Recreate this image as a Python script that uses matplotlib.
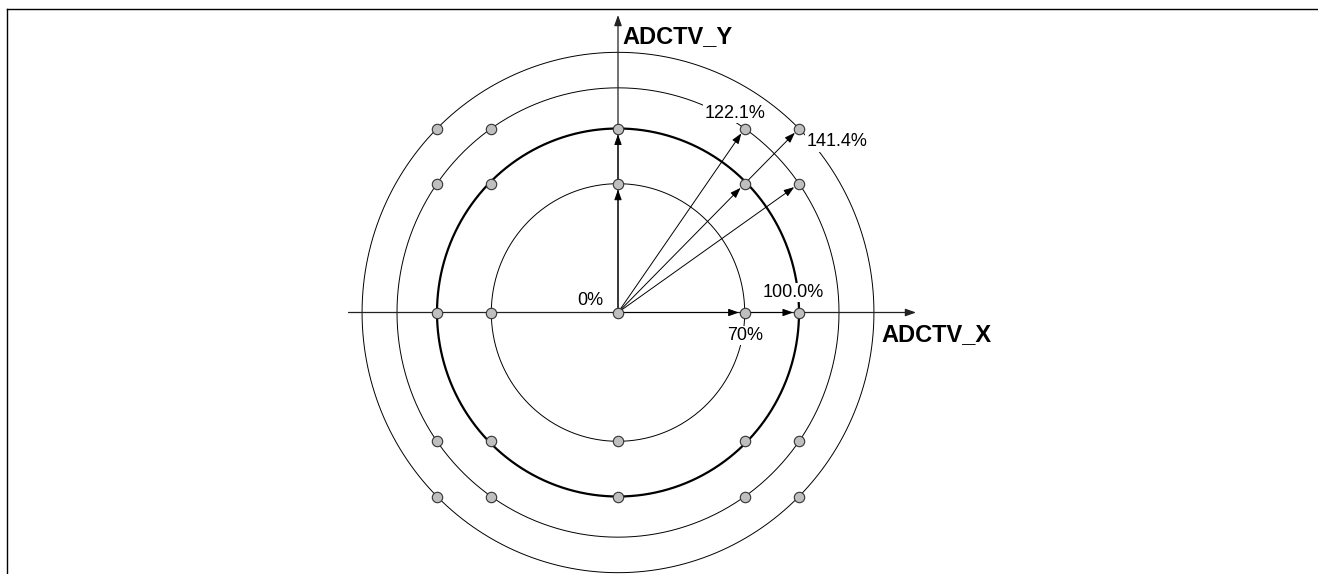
import matplotlib.pyplot as plt
import numpy as np

plt.rcParams['font.family'] = ['Liberation Sans', 'DejaVu Sans']

# circle radii (fraction of full scale) and their labels
radii = [0.7, 1.0, 1.221, 1.414]
radius_labels = ["70%", "100.0%", "122.1%", "141.4%"]
bold_radius = 1.0

# grid of operating points on both axes
grid_values = [-1.0, -0.7, 0.0, 0.7, 1.0]

# vector arrows drawn between points (start, end)
arrow_starts = [(0, 0), (0.7, 0), (0, 0), (0, 0.7), (0, 0), (0, 0), (0.7, 0.7), (0, 0)]
arrow_ends = [(0.7, 0), (1, 0), (0, 0.7), (0, 1), (0.7, 1), (0.7, 0.7), (1, 1), (1, 0.7)]

axis_names = ["ADCTV_X", "ADCTV_Y"]
origin_label = "0%"

# layout, in pixels of the 1318x574 canvas
W, H = 1318, 574
CX, CY = 618, 312.5       # origin
SX, SY = 181.0, 184.0     # pixels per unit
FRAME_L, FRAME_T = 7, 9


def px(x, y):
    return (x - CX) / SX, (CY - y) / SY


fig = plt.figure(figsize=(W / 100, H / 100), dpi=100)
ax = fig.add_axes([FRAME_L / W, 0, 1 - FRAME_L / W, (H - FRAME_T) / H])
ax.set_xlim(px(FRAME_L, 0)[0], px(W, 0)[0])
ax.set_ylim(px(0, H)[1], px(0, FRAME_T)[1])
ax.set_xticks([])
ax.set_yticks([])
for side in ["bottom", "right"]:
    ax.spines[side].set_visible(False)
for side in ["top", "left"]:
    ax.spines[side].set_linewidth(1.0)
    ax.spines[side].set_color("black")

# circles
theta = np.linspace(0, 2 * np.pi, 721)
for r in radii:
    lw = 1.6 if r == bold_radius else 0.7
    ax.plot(r * np.cos(theta), r * np.sin(theta), color="black", lw=lw, zorder=1)

# main axes with arrow heads
x_left, _ = px(348.5, 0)
x_right, _ = px(916, 0)
_, y_top = px(0, 15)
head = dict(arrowstyle="-|>,head_length=0.7,head_width=0.25", color="#222222",
            lw=0.9, mutation_scale=9, shrinkA=0, shrinkB=0)
ax.annotate("", xy=(x_right, 0), xytext=(x_left, 0), arrowprops=head, zorder=3)
ax.annotate("", xy=(0, y_top), xytext=(0, 0), arrowprops=head, zorder=3)

# vector arrows
vec = dict(arrowstyle="-|>,head_length=0.7,head_width=0.25", color="black",
           lw=0.7, mutation_scale=9, shrinkA=0, shrinkB=4.2)
for s, e in zip(arrow_starts, arrow_ends):
    ax.annotate("", xy=e, xytext=s, arrowprops=vec, zorder=4)

# radius labels, white box breaks the circle
label_px = [(745.5, 335.5), (793, 292.5), (735, 113), (837, 142)]
for text, (lx, ly) in zip(radius_labels, label_px):
    ax.text(*px(lx, ly), text, fontsize=13, ha="center", va="center", zorder=2,
            bbox=dict(facecolor="white", edgecolor="none", pad=1.0))
ax.text(*px(590, 300.5), origin_label, fontsize=13, ha="center", va="center", zorder=2)

# axis names
ax.text(*px(881, 335), axis_names[0], fontsize=17, fontweight="bold",
        ha="left", va="center", zorder=2)
ax.text(*px(622, 37), axis_names[1], fontsize=17, fontweight="bold",
        ha="left", va="center", zorder=2)

# grid points
gx, gy = np.meshgrid(grid_values, grid_values)
ax.plot(gx.ravel(), gy.ravel(), linestyle="none", marker="o", markersize=7.5,
        markerfacecolor="#bfbfbf", markeredgecolor="#333333", markeredgewidth=0.8,
        zorder=5)

fig.savefig("out.png", dpi=100)
